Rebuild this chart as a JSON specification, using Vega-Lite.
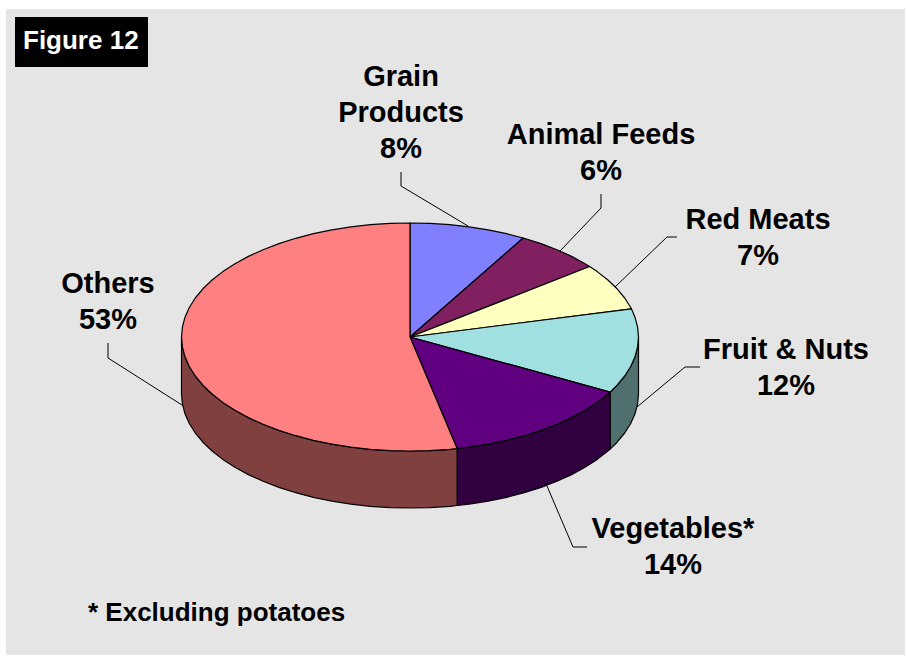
{"$schema":"https://vega.github.io/schema/vega-lite/v6.json","width":899,"height":646,"autosize":{"type":"none"},"padding":{"left":6,"top":9,"right":2,"bottom":8},"background":"white","config":{"view":{"fill":"#E5E5E5","stroke":null}},
"datasets":{
"side":[
{"s":"Fruit & Nuts side","i":1,"x":228.5,"y":0},{"s":"Fruit & Nuts side","i":2,"x":227.6,"y":-9.9},{"s":"Fruit & Nuts side","i":3,"x":225,"y":-19.8},{"s":"Fruit & Nuts side","i":4,"x":220.7,"y":-29.5},{"s":"Fruit & Nuts side","i":5,"x":214.7,"y":-39},{"s":"Fruit & Nuts side","i":6,"x":207.1,"y":-48.2},{"s":"Fruit & Nuts side","i":7,"x":200.1,"y":-55.1},{"s":"Fruit & Nuts side","i":8,"x":200.1,"y":-112.1},{"s":"Fruit & Nuts side","i":9,"x":207.1,"y":-105.2},{"s":"Fruit & Nuts side","i":10,"x":214.7,"y":-96},{"s":"Fruit & Nuts side","i":11,"x":220.7,"y":-86.5},{"s":"Fruit & Nuts side","i":12,"x":225,"y":-76.8},{"s":"Fruit & Nuts side","i":13,"x":227.6,"y":-66.9},{"s":"Fruit & Nuts side","i":14,"x":228.5,"y":-57},{"s":"Fruit & Nuts side","i":15,"x":228.5,"y":0},
{"s":"Vegetables side","i":1,"x":200.1,"y":-55.1},{"s":"Vegetables side","i":2,"x":197.9,"y":-57},{"s":"Vegetables side","i":3,"x":187.2,"y":-65.4},{"s":"Vegetables side","i":4,"x":175,"y":-73.3},{"s":"Vegetables side","i":5,"x":161.6,"y":-80.6},{"s":"Vegetables side","i":6,"x":146.9,"y":-87.3},{"s":"Vegetables side","i":7,"x":131.1,"y":-93.4},{"s":"Vegetables side","i":8,"x":114.25,"y":-98.7},{"s":"Vegetables side","i":9,"x":96.6,"y":-103.3},{"s":"Vegetables side","i":10,"x":78.1,"y":-107.1},{"s":"Vegetables side","i":11,"x":59.1,"y":-110.1},{"s":"Vegetables side","i":12,"x":47.1,"y":-111.5},{"s":"Vegetables side","i":13,"x":47.1,"y":-168.5},{"s":"Vegetables side","i":14,"x":59.1,"y":-167.1},{"s":"Vegetables side","i":15,"x":78.1,"y":-164.1},{"s":"Vegetables side","i":16,"x":96.6,"y":-160.3},{"s":"Vegetables side","i":17,"x":114.25,"y":-155.7},{"s":"Vegetables side","i":18,"x":131.1,"y":-150.4},{"s":"Vegetables side","i":19,"x":146.9,"y":-144.3},{"s":"Vegetables side","i":20,"x":161.6,"y":-137.6},{"s":"Vegetables side","i":21,"x":175,"y":-130.3},{"s":"Vegetables side","i":22,"x":187.2,"y":-122.4},{"s":"Vegetables side","i":23,"x":197.9,"y":-114},{"s":"Vegetables side","i":24,"x":200.1,"y":-112.1},{"s":"Vegetables side","i":25,"x":200.1,"y":-55.1},
{"s":"Others side","i":1,"x":47.1,"y":-111.5},{"s":"Others side","i":2,"x":39.7,"y":-112.3},{"s":"Others side","i":3,"x":19.9,"y":-113.6},{"s":"Others side","i":4,"x":0,"y":-114},{"s":"Others side","i":5,"x":-19.9,"y":-113.6},{"s":"Others side","i":6,"x":-39.7,"y":-112.3},{"s":"Others side","i":7,"x":-59.1,"y":-110.1},{"s":"Others side","i":8,"x":-78.1,"y":-107.1},{"s":"Others side","i":9,"x":-96.6,"y":-103.3},{"s":"Others side","i":10,"x":-114.25,"y":-98.7},{"s":"Others side","i":11,"x":-131.1,"y":-93.4},{"s":"Others side","i":12,"x":-146.9,"y":-87.3},{"s":"Others side","i":13,"x":-161.6,"y":-80.6},{"s":"Others side","i":14,"x":-175,"y":-73.3},{"s":"Others side","i":15,"x":-187.2,"y":-65.4},{"s":"Others side","i":16,"x":-197.9,"y":-57},{"s":"Others side","i":17,"x":-207.1,"y":-48.2},{"s":"Others side","i":18,"x":-214.7,"y":-39},{"s":"Others side","i":19,"x":-220.7,"y":-29.5},{"s":"Others side","i":20,"x":-225,"y":-19.8},{"s":"Others side","i":21,"x":-227.6,"y":-9.9},{"s":"Others side","i":22,"x":-228.5,"y":0},{"s":"Others side","i":23,"x":-228.5,"y":-57},{"s":"Others side","i":24,"x":-227.6,"y":-66.9},{"s":"Others side","i":25,"x":-225,"y":-76.8},{"s":"Others side","i":26,"x":-220.7,"y":-86.5},{"s":"Others side","i":27,"x":-214.7,"y":-96},{"s":"Others side","i":28,"x":-207.1,"y":-105.2},{"s":"Others side","i":29,"x":-197.9,"y":-114},{"s":"Others side","i":30,"x":-187.2,"y":-122.4},{"s":"Others side","i":31,"x":-175,"y":-130.3},{"s":"Others side","i":32,"x":-161.6,"y":-137.6},{"s":"Others side","i":33,"x":-146.9,"y":-144.3},{"s":"Others side","i":34,"x":-131.1,"y":-150.4},{"s":"Others side","i":35,"x":-114.25,"y":-155.7},{"s":"Others side","i":36,"x":-96.6,"y":-160.3},{"s":"Others side","i":37,"x":-78.1,"y":-164.1},{"s":"Others side","i":38,"x":-59.1,"y":-167.1},{"s":"Others side","i":39,"x":-39.7,"y":-169.3},{"s":"Others side","i":40,"x":-19.9,"y":-170.6},{"s":"Others side","i":41,"x":0,"y":-171},{"s":"Others side","i":42,"x":19.9,"y":-170.6},{"s":"Others side","i":43,"x":39.7,"y":-169.3},{"s":"Others side","i":44,"x":47.1,"y":-168.5},{"s":"Others side","i":45,"x":47.1,"y":-111.5}
],
"top":[
{"s":"Grain Products","i":1,"x":0,"y":0},{"s":"Grain Products","i":2,"x":0,"y":114},{"s":"Grain Products","i":3,"x":19.9,"y":113.6},{"s":"Grain Products","i":4,"x":39.7,"y":112.3},{"s":"Grain Products","i":5,"x":59.1,"y":110.1},{"s":"Grain Products","i":6,"x":78.1,"y":107.1},{"s":"Grain Products","i":7,"x":96.6,"y":103.3},{"s":"Grain Products","i":8,"x":113.2,"y":99},{"s":"Grain Products","i":9,"x":0,"y":0},
{"s":"Animal Feeds","i":1,"x":0,"y":0},{"s":"Animal Feeds","i":2,"x":113.2,"y":99},{"s":"Animal Feeds","i":3,"x":131.1,"y":93.4},{"s":"Animal Feeds","i":4,"x":146.9,"y":87.3},{"s":"Animal Feeds","i":5,"x":161.6,"y":80.6},{"s":"Animal Feeds","i":6,"x":175,"y":73.3},{"s":"Animal Feeds","i":7,"x":179.6,"y":70.5},{"s":"Animal Feeds","i":8,"x":0,"y":0},
{"s":"Red Meats","i":1,"x":0,"y":0},{"s":"Red Meats","i":2,"x":179.6,"y":70.5},{"s":"Red Meats","i":3,"x":187.2,"y":65.4},{"s":"Red Meats","i":4,"x":197.9,"y":57},{"s":"Red Meats","i":5,"x":207.1,"y":48.2},{"s":"Red Meats","i":6,"x":214.7,"y":39},{"s":"Red Meats","i":7,"x":220.7,"y":29.5},{"s":"Red Meats","i":8,"x":221.4,"y":28.2},{"s":"Red Meats","i":9,"x":0,"y":0},
{"s":"Fruit & Nuts","i":1,"x":0,"y":0},{"s":"Fruit & Nuts","i":2,"x":221.4,"y":28.2},{"s":"Fruit & Nuts","i":3,"x":225,"y":19.8},{"s":"Fruit & Nuts","i":4,"x":227.6,"y":9.9},{"s":"Fruit & Nuts","i":5,"x":228.5,"y":0},{"s":"Fruit & Nuts","i":6,"x":227.6,"y":-9.9},{"s":"Fruit & Nuts","i":7,"x":225,"y":-19.8},{"s":"Fruit & Nuts","i":8,"x":220.7,"y":-29.5},{"s":"Fruit & Nuts","i":9,"x":214.7,"y":-39},{"s":"Fruit & Nuts","i":10,"x":207.1,"y":-48.2},{"s":"Fruit & Nuts","i":11,"x":200.1,"y":-55.1},{"s":"Fruit & Nuts","i":12,"x":0,"y":0},
{"s":"Vegetables","i":1,"x":0,"y":0},{"s":"Vegetables","i":2,"x":200.1,"y":-55.1},{"s":"Vegetables","i":3,"x":197.9,"y":-57},{"s":"Vegetables","i":4,"x":187.2,"y":-65.4},{"s":"Vegetables","i":5,"x":175,"y":-73.3},{"s":"Vegetables","i":6,"x":161.6,"y":-80.6},{"s":"Vegetables","i":7,"x":146.9,"y":-87.3},{"s":"Vegetables","i":8,"x":131.1,"y":-93.4},{"s":"Vegetables","i":9,"x":114.25,"y":-98.7},{"s":"Vegetables","i":10,"x":96.6,"y":-103.3},{"s":"Vegetables","i":11,"x":78.1,"y":-107.1},{"s":"Vegetables","i":12,"x":59.1,"y":-110.1},{"s":"Vegetables","i":13,"x":47.1,"y":-111.5},{"s":"Vegetables","i":14,"x":0,"y":0},
{"s":"Others","i":1,"x":0,"y":0},{"s":"Others","i":2,"x":47.1,"y":-111.5},{"s":"Others","i":3,"x":39.7,"y":-112.3},{"s":"Others","i":4,"x":19.9,"y":-113.6},{"s":"Others","i":5,"x":0,"y":-114},{"s":"Others","i":6,"x":-19.9,"y":-113.6},{"s":"Others","i":7,"x":-39.7,"y":-112.3},{"s":"Others","i":8,"x":-59.1,"y":-110.1},{"s":"Others","i":9,"x":-78.1,"y":-107.1},{"s":"Others","i":10,"x":-96.6,"y":-103.3},{"s":"Others","i":11,"x":-114.25,"y":-98.7},{"s":"Others","i":12,"x":-131.1,"y":-93.4},{"s":"Others","i":13,"x":-146.9,"y":-87.3},{"s":"Others","i":14,"x":-161.6,"y":-80.6},{"s":"Others","i":15,"x":-175,"y":-73.3},{"s":"Others","i":16,"x":-187.2,"y":-65.4},{"s":"Others","i":17,"x":-197.9,"y":-57},{"s":"Others","i":18,"x":-207.1,"y":-48.2},{"s":"Others","i":19,"x":-214.7,"y":-39},{"s":"Others","i":20,"x":-220.7,"y":-29.5},{"s":"Others","i":21,"x":-225,"y":-19.8},{"s":"Others","i":22,"x":-227.6,"y":-9.9},{"s":"Others","i":23,"x":-228.5,"y":0},{"s":"Others","i":24,"x":-227.6,"y":9.9},{"s":"Others","i":25,"x":-225,"y":19.8},{"s":"Others","i":26,"x":-220.7,"y":29.5},{"s":"Others","i":27,"x":-214.7,"y":39},{"s":"Others","i":28,"x":-207.1,"y":48.2},{"s":"Others","i":29,"x":-197.9,"y":57},{"s":"Others","i":30,"x":-187.2,"y":65.4},{"s":"Others","i":31,"x":-175,"y":73.3},{"s":"Others","i":32,"x":-161.6,"y":80.6},{"s":"Others","i":33,"x":-146.9,"y":87.3},{"s":"Others","i":34,"x":-131.1,"y":93.4},{"s":"Others","i":35,"x":-114.25,"y":98.7},{"s":"Others","i":36,"x":-96.6,"y":103.3},{"s":"Others","i":37,"x":-78.1,"y":107.1},{"s":"Others","i":38,"x":-59.1,"y":110.1},{"s":"Others","i":39,"x":-39.7,"y":112.3},{"s":"Others","i":40,"x":-19.9,"y":113.6},{"s":"Others","i":41,"x":0,"y":114},{"s":"Others","i":42,"x":0,"y":0}
],
"leaders":[
{"s":"Grain Products","i":1,"x":-9,"y":165},{"s":"Grain Products","i":2,"x":-9,"y":151},{"s":"Grain Products","i":3,"x":58,"y":111},
{"s":"Animal Feeds","i":1,"x":191,"y":143},{"s":"Animal Feeds","i":2,"x":191,"y":129},{"s":"Animal Feeds","i":3,"x":150,"y":86},
{"s":"Red Meats","i":1,"x":267,"y":100},{"s":"Red Meats","i":2,"x":257,"y":100},{"s":"Red Meats","i":3,"x":205,"y":50},
{"s":"Fruit & Nuts","i":1,"x":290,"y":-30},{"s":"Fruit & Nuts","i":2,"x":275,"y":-30},{"s":"Fruit & Nuts","i":3,"x":227,"y":-70},
{"s":"Vegetables","i":1,"x":177,"y":-210},{"s":"Vegetables","i":2,"x":163,"y":-210},{"s":"Vegetables","i":3,"x":137,"y":-149},
{"s":"Others","i":1,"x":-302,"y":-6},{"s":"Others","i":2,"x":-302,"y":-21},{"s":"Others","i":3,"x":-228,"y":-68}
],
"labels":[
{"t":"Grain\nProducts\n8%","x":-9,"y":260},
{"t":"Animal Feeds\n6%","x":191,"y":202},
{"t":"Red Meats\n7%","x":348,"y":117},
{"t":"Fruit & Nuts\n12%","x":376,"y":-13},
{"t":"Vegetables*\n14%","x":263,"y":-192},
{"t":"Others\n53%","x":-302,"y":53}
],
"tag":[{"x":-395,"x2":-262,"y":320,"y2":270,"tx":-387,"ty":296,"t":"Figure 12"}],
"note":[{"x":-322,"y":-276,"t":"* Excluding potatoes"}]
},
"encoding":{
"x":{"field":"x","type":"quantitative","scale":{"domain":[-404,495],"nice":false,"zero":false},"axis":null},
"y":{"field":"y","type":"quantitative","scale":{"domain":[-318,328],"nice":false,"zero":false},"axis":null}
},
"layer":[
{"data":{"name":"leaders"},"mark":{"type":"line","stroke":"#000000","strokeWidth":1,"clip":false},"encoding":{"detail":{"field":"s"},"order":{"field":"i","type":"quantitative"}}},
{"data":{"name":"side"},"mark":{"type":"line","stroke":"#000000","strokeWidth":1.2,"strokeJoin":"round"},"encoding":{"fill":{"field":"s","type":"nominal","legend":null,"scale":{"domain":["Grain Products","Animal Feeds","Red Meats","Fruit & Nuts","Vegetables","Others","Fruit & Nuts side","Vegetables side","Others side"],"range":["#8080FF","#802060","#FFFFC0","#A0E0E0","#600080","#FF8080","#507070","#300040","#804040"]}},"detail":{"field":"s"},"order":{"field":"i","type":"quantitative"}}},
{"data":{"name":"top"},"mark":{"type":"line","stroke":"#000000","strokeWidth":1.2,"strokeJoin":"round"},"encoding":{"fill":{"field":"s","type":"nominal","legend":null},"detail":{"field":"s"},"order":{"field":"i","type":"quantitative"}}},
{"data":{"name":"labels"},"mark":{"type":"text","font":"Liberation Sans","fontWeight":"bold","fontSize":29,"lineHeight":36,"lineBreak":"\n","align":"center","baseline":"middle","color":"#000000"},"encoding":{"text":{"field":"t"}}},
{"data":{"name":"tag"},"mark":{"type":"rect","fill":"#000000"},"encoding":{"x2":{"field":"x2"},"y2":{"field":"y2"}}},
{"data":{"name":"tag"},"mark":{"type":"text","font":"Liberation Sans","fontWeight":"bold","fontSize":26,"align":"left","baseline":"middle","color":"#FFFFFF"},"encoding":{"x":{"field":"tx","type":"quantitative"},"y":{"field":"ty","type":"quantitative"},"text":{"field":"t"}}},
{"data":{"name":"note"},"mark":{"type":"text","font":"Liberation Sans","fontWeight":"bold","fontSize":26,"align":"left","baseline":"middle","color":"#000000"},"encoding":{"text":{"field":"t"}}}
]}
